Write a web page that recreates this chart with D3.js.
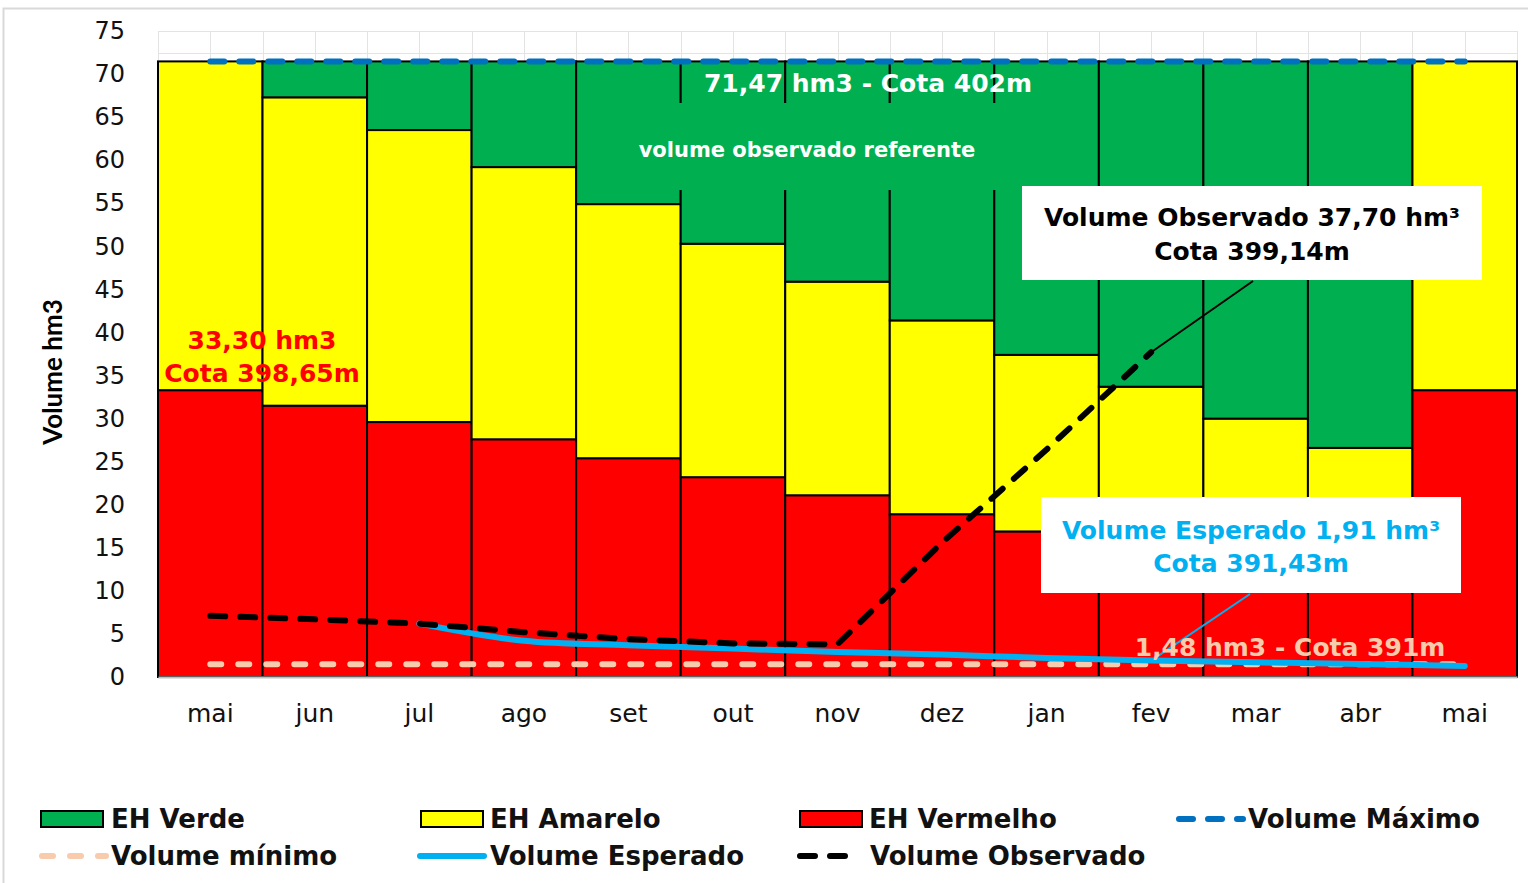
<!doctype html>
<html lang="pt">
<head>
<meta charset="UTF-8">
<script src="https://d3js.org/d3.v7.min.js"></script>
<style>
body {
  margin: 0;
  background: #fff;
}
svg {
  display: block;
  font-family: "DejaVu Sans", sans-serif;
}
.grid line {
  stroke: #e3e3e3;
  stroke-width: 1;
  shape-rendering: crispEdges;
}
.seg {
  stroke: #000;
  stroke-width: 2;
}
.axis text {
  fill: #111;
}
</style>
<title></title>
</head>
<body>
<div id="main"></div>
<script>
// months (the cycle starts and ends in May)
var meses = ["mai", "jun", "jul", "ago", "set", "out", "nov", "dez", "jan", "fev", "mar", "abr", "mai"];

// top of the red band (EH Vermelho) in hm3
var limVermelho = [33.30, 31.5, 29.6, 27.6, 25.4, 23.2, 21.1, 18.9, 16.9, 14.9, 12.9, 11.0, 33.30];
// top of the yellow band (EH Amarelo) in hm3
var limAmarelo = [71.47, 67.3, 63.5, 59.2, 54.9, 50.3, 45.9, 41.4, 37.4, 33.7, 30.0, 26.6, 71.47];

var volMaximo = [71.47, 71.47, 71.47, 71.47, 71.47, 71.47, 71.47, 71.47, 71.47, 71.47, 71.47, 71.47, 71.47];
var volMinimo = [1.48, 1.48, 1.48, 1.48, 1.48, 1.48, 1.48, 1.48, 1.48, 1.48, 1.48, 1.48, 1.48];
var volEsperado = [null, null, 6.2, 4.2, 3.7, 3.3, 2.9, 2.6, 2.2, 1.91, 1.7, 1.5, 1.28];
var volObservado = [7.1, 6.7, 6.2, 5.2, 4.4, 3.9, 3.8, 15.6, 26.4, 37.7, null, null, null];

var yTicks = [0, 5, 10, 15, 20, 25, 30, 35, 40, 45, 50, 55, 60, 65, 70, 75];

var W = 1528, H = 883;

var svg = d3.select("#main").append("svg")
  .attr("width", W)
  .attr("height", H);

// chart frame (cut by the picture edges)
svg.append("rect")
  .attr("x", 3.5).attr("y", 8.5)
  .attr("width", 1600).attr("height", 1000)
  .attr("fill", "none")
  .attr("stroke", "#d9d9d9")
  .attr("stroke-width", 2);

var x = d3.scaleBand().domain(d3.range(meses.length)).range([158, 1517]).padding(0),
    y = d3.scaleLinear().domain([0, 75]).range([677, 31]),
    bw = x.bandwidth();

function cx(i) { return x(i) + bw / 2; }

// gridlines
var grid = svg.append("g").attr("class", "grid");
grid.selectAll(".h")
  .data(d3.range(0, 75.01, 2.5))
  .enter().append("line")
  .attr("x1", 158).attr("x2", 1517)
  .attr("y1", function(d) { return Math.round(y(d)) + 0.5; })
  .attr("y2", function(d) { return Math.round(y(d)) + 0.5; });
grid.selectAll(".v")
  .data(d3.range(meses.length * 2 + 1))
  .enter().append("line")
  .attr("x1", function(k) { return Math.round(158 + k * bw / 2) + 0.5; })
  .attr("x2", function(k) { return Math.round(158 + k * bw / 2) + 0.5; })
  .attr("y1", y(75)).attr("y2", y(0));

// stacked bands
var segs = [];
meses.forEach(function(m, i) {
  segs.push({i: i, y0: 0, y1: limVermelho[i], c: "#ff0000"});
  segs.push({i: i, y0: limVermelho[i], y1: limAmarelo[i], c: "#ffff00"});
  segs.push({i: i, y0: limAmarelo[i], y1: volMaximo[i], c: "#00b050"});
});

svg.append("g").selectAll("rect")
  .data(segs.filter(function(d) { return d.y1 > d.y0; }))
  .enter().append("rect")
  .attr("class", "seg")
  .attr("x", function(d) { return x(d.i); })
  .attr("width", bw)
  .attr("y", function(d) { return y(d.y1); })
  .attr("height", function(d) { return y(d.y0) - y(d.y1); })
  .attr("fill", function(d) { return d.c; });

// axes
var yAxis = svg.append("g")
  .attr("class", "axis")
  .attr("transform", "translate(158,0)")
  .call(d3.axisLeft(y).tickValues(yTicks).tickSize(0).tickPadding(33));
yAxis.select(".domain").remove();
yAxis.selectAll("text").style("font-size", "24px").style("font-family", "DejaVu Sans");

var xAxis = svg.append("g")
  .attr("class", "axis")
  .attr("transform", "translate(0,677)")
  .call(d3.axisBottom(x).tickFormat(function(i) { return meses[i]; }).tickSize(0).tickPadding(27));
xAxis.select(".domain").attr("stroke", "#bfbfbf").attr("stroke-width", 2);
xAxis.selectAll("text").style("font-size", "25px").style("font-family", "DejaVu Sans");

svg.append("text")
  .attr("transform", "translate(62,372) rotate(-90)")
  .attr("text-anchor", "middle")
  .style("font-family", "Lato")
  .style("font-weight", "bold")
  .style("font-size", "26px")
  .text("Volume hm3");

// green label background
svg.append("rect")
  .attr("x", 612).attr("y", 103)
  .attr("width", 390).attr("height", 87)
  .attr("fill", "#00b050");

// lines
var line = d3.line()
  .defined(function(d) { return d != null; })
  .x(function(d, i) { return cx(i); })
  .y(function(d) { return y(d); });

svg.append("path")
  .datum(volMinimo)
  .attr("d", line)
  .attr("fill", "none")
  .attr("stroke", "#f8cbad")
  .attr("stroke-width", 6)
  .attr("stroke-linecap", "round")
  .attr("stroke-dasharray", "11,17");

svg.append("path")
  .datum(volMaximo)
  .attr("d", line)
  .attr("fill", "none")
  .attr("stroke", "#0070c0")
  .attr("stroke-width", 6)
  .attr("stroke-linecap", "round")
  .attr("stroke-dasharray", "14,15");

svg.append("path")
  .datum(volEsperado)
  .attr("d", line.curve(d3.curveCatmullRom))
  .attr("fill", "none")
  .attr("stroke", "#00b0f0")
  .attr("stroke-width", 6)
  .attr("stroke-linecap", "round");

svg.append("path")
  .datum(volObservado)
  .attr("d", line.curve(d3.curveLinear))
  .attr("fill", "none")
  .attr("stroke", "#000")
  .attr("stroke-width", 6)
  .attr("stroke-linecap", "round")
  .attr("stroke-dasharray", "15,15");

// annotations
function label(txt, px, py, size, color, weight) {
  return svg.append("text")
    .attr("x", px).attr("y", py)
    .attr("text-anchor", "middle")
    .attr("fill", color)
    .style("font-size", size + "px")
    .style("font-weight", weight || "bold")
    .text(txt);
}

label("71,47 hm3 - Cota 402m", 868, 92, 25, "#fff");
label("volume observado referente", 807, 157, 21, "#fff");
label("33,30 hm3", 262, 349, 25, "#ff0000");
label("Cota 398,65m", 262, 382, 25, "#ff0000");

// observed callout
svg.append("line")
  .attr("x1", 1253).attr("y1", 281)
  .attr("x2", cx(9)).attr("y2", y(volObservado[9]))
  .attr("stroke", "#000").attr("stroke-width", 2);
svg.append("rect")
  .attr("x", 1022).attr("y", 186)
  .attr("width", 460).attr("height", 94)
  .attr("fill", "#fff");
label("Volume Observado 37,70 hm\u00b3", 1252, 226, 25, "#000");
label("Cota 399,14m", 1252, 260, 25, "#000");

// expected callout
svg.append("line")
  .attr("x1", 1250).attr("y1", 594)
  .attr("x2", cx(9)).attr("y2", y(volEsperado[9]))
  .attr("stroke", "#00b0f0").attr("stroke-width", 2);
svg.append("rect")
  .attr("x", 1041).attr("y", 497)
  .attr("width", 420).attr("height", 96)
  .attr("fill", "#fff");
label("Volume Esperado 1,91 hm\u00b3", 1251, 539, 25, "#00b0f0");
label("Cota 391,43m", 1251, 572, 25, "#00b0f0");

label("1,48 hm3 - Cota 391m", 1290, 656, 25, "#f8cbad");

// legend
var legend = [
  {t: "rect", c: "#00b050", x: 41, y: 819, tx: 111, name: "EH Verde"},
  {t: "rect", c: "#ffff00", x: 421, y: 819, tx: 490, name: "EH Amarelo"},
  {t: "rect", c: "#ff0000", x: 800, y: 819, tx: 869, name: "EH Vermelho"},
  {t: "line", c: "#0070c0", x: 1179, y: 819, len: 64, tx: 1248, name: "Volume M\u00e1ximo", dash: "14,15", w: 6},
  {t: "line", c: "#f8cbad", x: 42, y: 856, len: 64, tx: 111, name: "Volume m\u00ednimo", dash: "11,17", w: 6},
  {t: "line", c: "#00b0f0", x: 420, y: 856, len: 64, tx: 490, name: "Volume Esperado", dash: null, w: 6},
  {t: "line", c: "#000", x: 800, y: 856, len: 50, tx: 870, name: "Volume Observado", dash: "15,15", w: 6}
];

var lg = svg.append("g");
legend.forEach(function(d) {
  if (d.t == "rect") {
    lg.append("rect")
      .attr("x", d.x).attr("y", d.y - 8)
      .attr("width", 62).attr("height", 16)
      .attr("fill", d.c)
      .attr("stroke", "#000").attr("stroke-width", 2);
  } else {
    lg.append("line")
      .attr("x1", d.x).attr("x2", d.x + d.len)
      .attr("y1", d.y).attr("y2", d.y)
      .attr("stroke", d.c)
      .attr("stroke-width", d.w)
      .attr("stroke-linecap", "round")
      .attr("stroke-dasharray", d.dash);
  }
  lg.append("text")
    .attr("x", d.tx).attr("y", d.y + 9)
    .style("font-size", "26px")
    .style("font-weight", "bold")
    .attr("fill", "#111")
    .text(d.name);
});
</script>
</body>
</html>
